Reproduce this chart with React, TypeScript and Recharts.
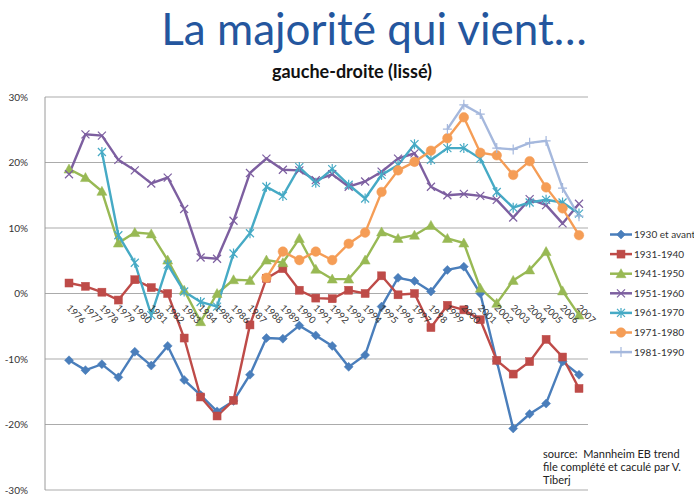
import React from 'react';
import { LineChart, Line, XAxis, YAxis, CartesianGrid } from 'recharts';

const YEARS = ['1976','1977','1978','1979','1980','1981','1982','1983','1984','1985','1986','1987','1988','1989','1990','1991','1992','1993','1994','1995','1996','1997','1998','1999','2000','2001','2002','2003','2004','2005','2006','2007'];

const S1930 = [-10.2,-11.7,-10.8,-12.8,-8.9,-11.0,-8.0,-13.2,-15.5,-18.0,-16.4,-12.4,-6.8,-6.9,-4.9,-6.4,-8.0,-11.2,-9.4,-2.0,2.4,1.9,0.3,3.6,4.1,0.0,-10.3,-20.6,-18.4,-16.8,-10.4,-12.4];
const S1931 = [1.6,1.1,0.2,-1.0,2.1,0.9,0.0,-6.8,-15.8,-18.7,-16.3,-4.8,2.3,3.8,0.5,-0.7,-0.8,0.5,0.0,2.7,-0.2,0.0,-5.2,-1.8,-2.5,-4.0,-10.2,-12.3,-10.4,-7.0,-9.7,-14.5];
const S1941 = [19.0,17.7,15.6,7.7,9.3,9.1,5.1,0.5,-4.3,0.0,2.1,2.0,5.1,4.7,8.4,3.7,2.2,2.2,5.1,9.4,8.4,8.9,10.4,8.4,7.7,0.8,-1.5,2.0,3.6,6.4,0.4,-3.3];
const S1951 = [18.2,24.3,24.1,20.4,18.8,16.8,17.7,12.9,5.5,5.3,11.1,18.4,20.6,18.9,18.8,17.3,18.2,16.3,17.1,18.6,20.6,21.4,16.3,15.0,15.2,14.9,14.3,11.6,14.4,13.5,10.7,13.7];
const S1961 = [null,null,21.6,8.9,4.7,-3.3,4.4,0.3,-1.3,-2.0,6.1,9.2,16.3,14.9,19.3,16.9,19.0,16.6,14.5,18.1,19.6,22.8,20.4,22.2,22.2,20.6,15.5,13.1,13.9,14.3,13.9,12.2];
const S1971 = [null,null,null,null,null,null,null,null,null,null,null,null,2.4,6.4,5.1,6.4,5.1,7.6,9.3,15.5,18.8,20.1,21.8,23.7,26.9,21.5,21.1,18.1,20.2,16.2,13.0,8.9];
const S1981 = [null,null,null,null,null,null,null,null,null,null,null,null,null,null,null,null,null,null,null,null,null,null,null,25.1,28.8,27.4,22.2,22.0,23.0,23.3,16.1,11.8];

const Y_TICKS = [-30, -20, -10, 0, 10, 20, 30];

type Shape = 'diamond' | 'square' | 'triangle' | 'x' | 'star' | 'circle' | 'plus';

const SERIES: { key: string; name: string; color: string; shape: Shape; values: (number | null)[] }[] = [
  { key: 's1930', name: '1930 et avant', color: '#4A7EBB', shape: 'diamond', values: S1930 },
  { key: 's1931', name: '1931-1940', color: '#BE4B48', shape: 'square', values: S1931 },
  { key: 's1941', name: '1941-1950', color: '#98B954', shape: 'triangle', values: S1941 },
  { key: 's1951', name: '1951-1960', color: '#7D5FA0', shape: 'x', values: S1951 },
  { key: 's1961', name: '1961-1970', color: '#46AAC5', shape: 'star', values: S1961 },
  { key: 's1971', name: '1971-1980', color: '#F59D56', shape: 'circle', values: S1971 },
  { key: 's1981', name: '1981-1990', color: '#A5B8DD', shape: 'plus', values: S1981 },
];

const DATA = YEARS.map((year, i) => {
  const row: any = { year };
  SERIES.forEach((s) => { row[s.key] = s.values[i]; });
  return row;
});

const W = 694;
const H = 496;
const M_TOP = 97;
const X_AXIS_H = 6;
const PLOT_H = H - M_TOP - X_AXIS_H;
const FONT = 'Lato, "Open Sans", sans-serif';

function marker(shape: Shape, cx: number, cy: number, color: string, key?: string) {
  switch (shape) {
    case 'diamond': {
      const s = 4.5;
      return <path key={key} d={`M${cx},${cy - s}L${cx + s},${cy}L${cx},${cy + s}L${cx - s},${cy}Z`} fill={color} stroke={color} strokeWidth={0.5} />;
    }
    case 'square':
      return <rect key={key} x={cx - 4} y={cy - 4} width={8} height={8} fill={color} stroke={color} strokeWidth={0.5} />;
    case 'triangle':
      return <path key={key} d={`M${cx},${cy - 5}L${cx + 5},${cy + 4}L${cx - 5},${cy + 4}Z`} fill={color} stroke={color} strokeWidth={0.5} />;
    case 'x':
      return <path key={key} d={`M${cx - 4},${cy - 4}L${cx + 4},${cy + 4}M${cx + 4},${cy - 4}L${cx - 4},${cy + 4}`} stroke={color} strokeWidth={1.2} fill="none" />;
    case 'star':
      return <path key={key} d={`M${cx - 4},${cy - 4}L${cx + 4},${cy + 4}M${cx + 4},${cy - 4}L${cx - 4},${cy + 4}M${cx},${cy - 5}L${cx},${cy + 5}`} stroke={color} strokeWidth={1.2} fill="none" />;
    case 'circle':
      return <circle key={key} cx={cx} cy={cy} r={4.8} fill={color} stroke={color} strokeWidth={0.5} />;
    case 'plus':
      return <path key={key} d={`M${cx - 4.5},${cy}L${cx + 4.5},${cy}M${cx},${cy - 5}L${cx},${cy + 5}`} stroke={color} strokeWidth={1.2} fill="none" />;
  }
  return null;
}

const makeDot = (shape: Shape, color: string) => (props: any) => {
  const { cx, cy, index } = props;
  if (cx == null || cy == null || props.value == null || (Array.isArray(props.value) && props.value[1] == null)) {
    return <g key={`e${index}`} />;
  }
  return marker(shape, cx, cy, color, `d${index}`);
};

const renderYearTick = (props: any) => {
  const { x, y, payload, index } = props;
  // y is the top of the x-axis band (bottom of plot); domain is symmetric, so 0% sits at mid-height
  const y0 = y - PLOT_H / 2;
  const tx = x - 3;
  const ty = y0 + 15;
  return (
    <text key={`t${index}`} x={tx} y={ty} transform={`rotate(45 ${tx} ${ty})`} fontSize={9.5} fill="#333" fontFamily={FONT} textAnchor="start">
      {payload.value}
    </text>
  );
};

export default function App() {
  return (
    <div style={{ position: 'absolute', left: 0, top: 0, width: W, height: H, background: '#fff' }}>
      <LineChart width={W} height={H} data={DATA} margin={{ top: M_TOP, right: 106, left: 0, bottom: 0 }}>
        <CartesianGrid vertical={false} stroke="#ababab" strokeWidth={1} />
        <XAxis
          dataKey="year"
          height={X_AXIS_H}
          padding={{ left: 24, right: 9 }}
          axisLine={false}
          tickLine={false}
          tickSize={0}
          tickMargin={0}
          interval={0}
          tick={renderYearTick}
        />
        <YAxis
          width={45}
          domain={[-30, 30]}
          ticks={Y_TICKS}
          tickFormatter={(v: number) => `${v}%`}
          axisLine={{ stroke: '#9a9a9a' }}
          tickLine={false}
          tickMargin={11}
          tick={{ fontSize: 10, fill: '#333', fontFamily: FONT }}
          interval={0}
        />
        {SERIES.map((s) => (
          <Line
            key={s.key}
            dataKey={s.key}
            name={s.name}
            stroke={s.color}
            strokeWidth={2.4}
            dot={makeDot(s.shape, s.color)}
            activeDot={false}
            isAnimationActive={false}
            connectNulls={false}
          />
        ))}
      </LineChart>
      <svg width={W} height={H} style={{ position: 'absolute', left: 0, top: 0, pointerEvents: 'none' }}>
        <text x={374} y={45} textAnchor="middle" fontSize={44} fill="#24569E" fontFamily={FONT}>La majorité qui vient…</text>
        <text x={352} y={78} textAnchor="middle" fontSize={18} fontWeight="bold" fill="#111" fontFamily={FONT}>gauche-droite (lissé)</text>
        {SERIES.map((s, i) => {
          const cy = 234.5 + i * 19.6;
          return (
            <g key={s.key}>
              <line x1={610} x2={632} y1={cy} y2={cy} stroke={s.color} strokeWidth={2.5} />
              {marker(s.shape, 621, cy, s.color)}
              <text x={634} y={cy + 3.5} fontSize={10} fill="#333" fontFamily={FONT}>{s.name}</text>
            </g>
          );
        })}
        <text fontSize={11} fill="#222" fontFamily={FONT} style={{ whiteSpace: 'pre' }}>
          <tspan x={543} y={458}>source:  Mannheim EB trend</tspan>
          <tspan x={543} y={471}>file complété et caculé par V.</tspan>
          <tspan x={543} y={484}>Tiberj</tspan>
        </text>
      </svg>
    </div>
  );
}
